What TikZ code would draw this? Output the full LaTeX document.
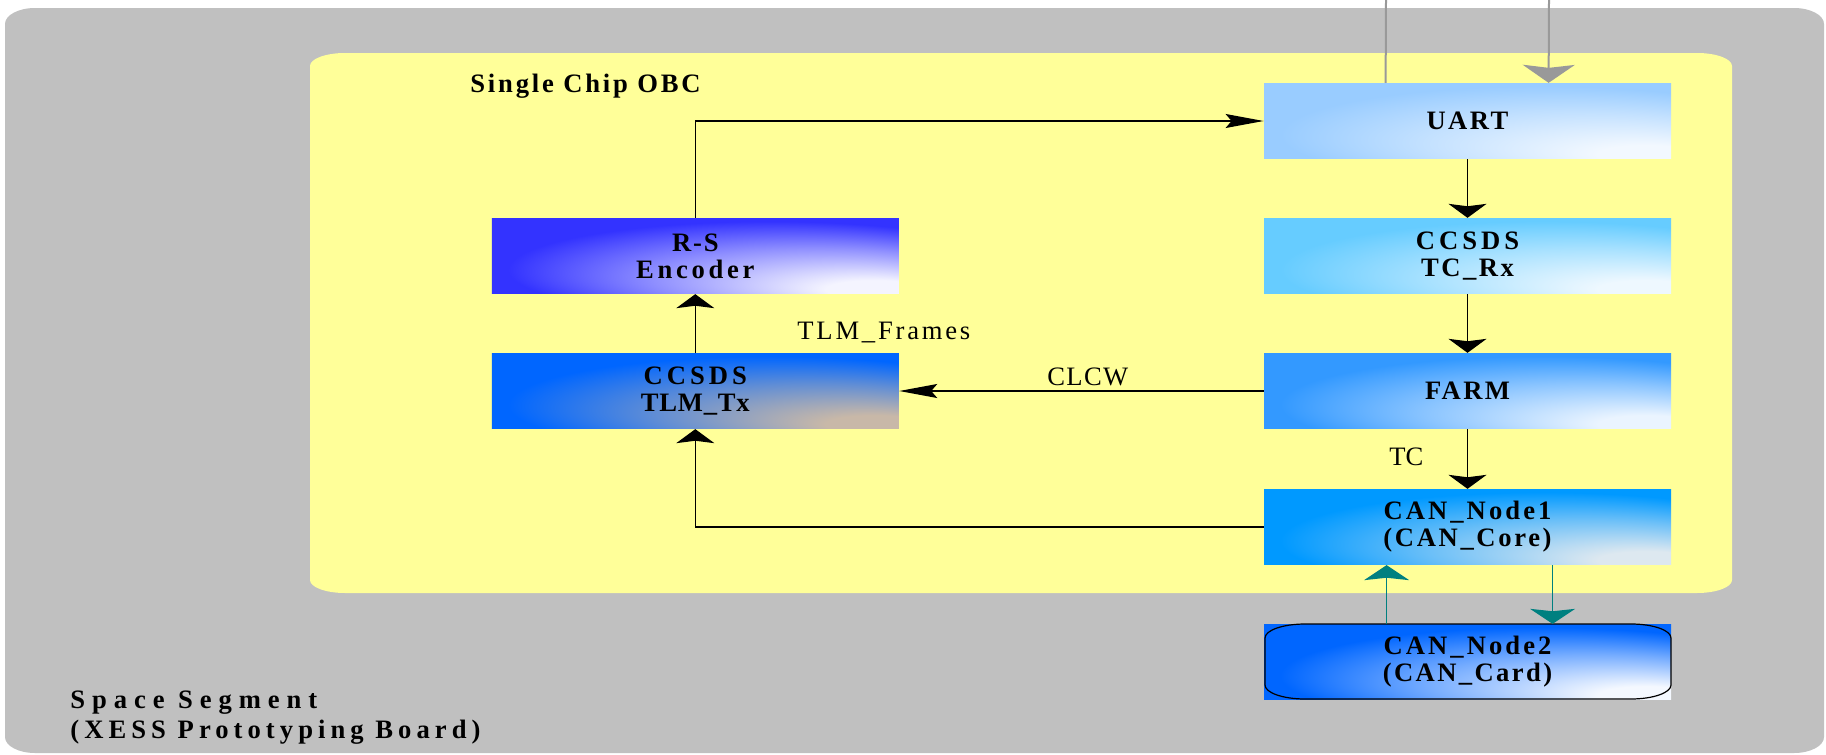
\documentclass[tikz,border=0pt]{standalone}
\usepackage{fontspec}
\setmainfont{Liberation Serif}
\usetikzlibrary{arrows.meta}
\newcommand\trk[2]{{\addfontfeatures{LetterSpace=#1}#2}}
\definecolor{bgray}{HTML}{C0C0C0}
\definecolor{yel}{HTML}{FFFF99}
\definecolor{cUART}{HTML}{99CCFF}\definecolor{eUART}{HTML}{F2F8FF}
\definecolor{cTCRX}{HTML}{66CCFF}\definecolor{eTCRX}{HTML}{EEF8FF}
\definecolor{cFARM}{HTML}{3399FF}\definecolor{eFARM}{HTML}{EAF4FF}
\definecolor{cCANA}{HTML}{0099FF}\definecolor{eCANA}{HTML}{DDE8F0}
\definecolor{cCANB}{HTML}{0066FF}\definecolor{eCANB}{HTML}{F4F8FF}
\definecolor{cRS}{HTML}{3333FF}\definecolor{eRS}{HTML}{F4F4FF}
\definecolor{cTLM}{HTML}{0066FF}\definecolor{eTLM}{HTML}{C8B8A8}
\definecolor{glinec}{HTML}{999999}
\definecolor{tealc}{HTML}{008080}
% radial "sky" shading, light spot at the bottom right corner
\newcommand\mksh[3]{%
  \colorlet{m#1}{#2!52!#3}%
  \pgfdeclareradialshading{sh#1}{\pgfpoint{25bp}{-25bp}}{%
    color(0bp)=(#3); color(6bp)=(#3); color(20bp)=(m#1);
    color(32bp)=(#2); color(50bp)=(#2)}}
\mksh{UART}{cUART}{eUART}
\mksh{TCRX}{cTCRX}{eTCRX}
\mksh{FARM}{cFARM}{eFARM}
\mksh{CANA}{cCANA}{eCANA}
\mksh{CANB}{cCANB}{eCANB}
\mksh{RS}{cRS}{eRS}
\mksh{TLM}{cTLM}{eTLM}
\tikzset{
  blk/.style={minimum width=203.5pt, minimum height=37.75pt, inner sep=0pt,
    align=center, font=\fontsize{13.3}{13.5}\selectfont\bfseries},
  grad/.style={shade, shading=sh#1},
  lbl/.style={inner sep=0pt, font=\fontsize{13.3}{15}\selectfont},
  ttl/.style={inner sep=0pt, align=left, font=\fontsize{13.3}{15}\selectfont\bfseries},
  ln/.style={draw=black, line width=0.65pt},
  harr/.style={ln, -{Stealth[length=19pt,width=7pt,inset=3pt]}},
  varr/.style={ln, -{Stealth[length=7pt,width=19pt,inset=1.2pt]}},
  tarr/.style={draw=tealc, line width=0.8pt, -{Stealth[length=7.5pt,width=22.5pt,inset=1.2pt,color=tealc]}},
  gln/.style={draw=glinec, line width=1pt},
  garr/.style={gln, -{Stealth[length=9pt,width=26pt,inset=1.5pt,color=glinec]}},
}
\begin{document}
\begin{tikzpicture}[x=0.5pt,y=-0.5pt]
\useasboundingbox (0,0) rectangle (1826,755);
\fill[white] (0,0) rectangle (1826,755);
% outer gray board
\fill[bgray] (5,24) arc[start angle=180,end angle=270,x radius=30,y radius=16]
  -- (1794,8) arc[start angle=270,end angle=360,x radius=30,y radius=16]
  -- (1824,737) arc[start angle=0,end angle=90,x radius=30,y radius=16]
  -- (35,753) arc[start angle=90,end angle=180,x radius=30,y radius=16] -- cycle;
% yellow chip
\fill[yel] (310,66) arc[start angle=180,end angle=270,x radius=35,y radius=13]
  -- (1697,53) arc[start angle=270,end angle=360,x radius=35,y radius=13]
  -- (1732,580) arc[start angle=0,end angle=90,x radius=35,y radius=13]
  -- (345,593) arc[start angle=90,end angle=180,x radius=35,y radius=13] -- cycle;
% titles
\node[ttl, anchor=base west] (obc) at (470,92) {\trk{10.5}{Single Chip OBC}};
\node[ttl, anchor=base west] (seg) at (70,738) {\trk{26}{Space Segment}\\\trk{19}{(XESS Prototyping Board)}};
% blocks
\node[blk, grad=UART] (uart) at (1467.5,121) {\trk{9.5}{UART}};
\node[blk, grad=TCRX] (tcrx) at (1467.5,256) {\trk{15}{CCSDS}\\\trk{9.6}{TC\_Rx}};
\node[blk, grad=FARM] (farm) at (1467.5,391) {\trk{9}{FARM}};
\node[blk, grad=CANA] (can1) at (1467.5,527) {\trk{11.6}{CAN\_Node1}\\\trk{10}{(CAN\_Core)}};
\node[blk, grad=CANB] (can2) at (1467.5,662) {\trk{11.6}{CAN\_Node2}\\\trk{9}{(CAN\_Card)}};
\node[blk, grad=RS] (rs) at (695.3,256) {\trk{7}{R-S}\\\trk{14}{Encoder}};
\node[blk, grad=TLM] (tlm) at (695.3,391) {\trk{15}{CCSDS}\\\trk{3}{TLM\_Tx}};
% CAN_Node2 outline
\draw[black, line width=0.6pt] (1265,638) arc[start angle=180,end angle=270,x radius=40,y radius=14]
  -- (1631,624) arc[start angle=270,end angle=360,x radius=40,y radius=14]
  -- (1671,685) arc[start angle=0,end angle=90,x radius=40,y radius=14]
  -- (1305,699) arc[start angle=90,end angle=180,x radius=40,y radius=14] -- cycle;
% external gray lines
\coordinate (uout) at (1386,0);
\coordinate (uin) at (1549,0);
\draw[gln] ([xshift=61pt]uart.north west) -- (uout);
\draw[garr] (uin) -- ([xshift=142.5pt]uart.north west);
% connectors
\draw[harr] (rs.north) |- (uart.west);
\draw[varr] (uart.south) -- (tcrx.north);
\draw[varr] (tcrx.south) -- (farm.north);
\draw[varr] (farm.south) -- (can1.north);
\draw[harr] (farm.west) -- (tlm.east);
\draw[varr] (can1.west) -| (tlm.south);
\draw[varr] (tlm.north) -- (rs.south);
\draw[tarr] ([xshift=61.5pt]can2.north west) -- ([xshift=61.5pt]can1.south west);
\draw[tarr] ([xshift=144.5pt]can1.south west) -- ([xshift=144.5pt]can2.north west);
% labels
\node[lbl, anchor=base west] (tlmfr) at (797,339) {\trk{10.5}{TLM\_Frames}};
\node[lbl, anchor=base west] (clcw) at (1047,385) {\trk{5}{CLCW}};
\node[lbl, anchor=base west] (tc) at (1389,465) {TC};
\end{tikzpicture}
\end{document}
